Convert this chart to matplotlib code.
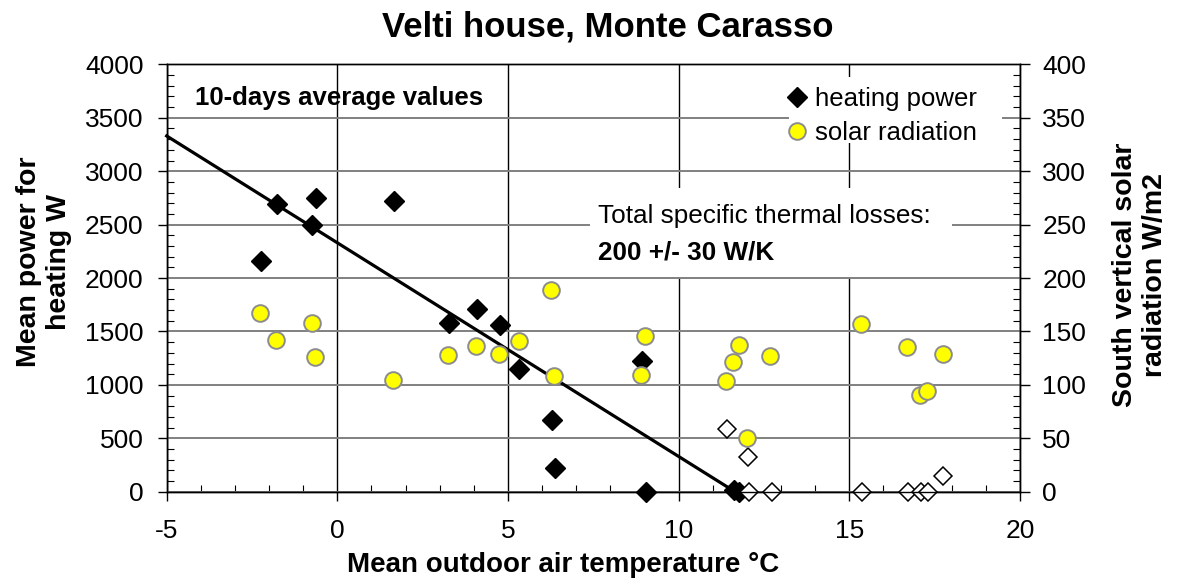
import numpy as np
import matplotlib.pyplot as plt
from matplotlib.patches import Rectangle
from matplotlib.ticker import MultipleLocator

plt.rcParams['font.family'] = ['Liberation Sans', 'DejaVu Sans']
plt.rcParams['axes.unicode_minus'] = False

# heating periods: mean outdoor air temperature (degC) vs mean heating power (W)
heat_temp = [-2.24, -1.78, -0.73, -0.63, 1.66, 3.28, 4.08, 4.77, 5.33,
             6.28, 6.38, 8.93, 9.03, 11.62, 11.78]
heat_power = [2160, 2690, 2500, 2750, 2720, 1580, 1710, 1560, 1150,
              670, 220, 1220, 0, 20, 0]

# periods with (almost) no heating -> open diamonds
off_temp = [11.41, 12.04, 12.07, 12.73, 15.36, 16.71, 17.09, 17.30, 17.75]
off_power = [585, 322, 0, 0, 0, 0, 0, 0, 150]

# south vertical solar radiation (W/m2), right axis
sol_temp = [-2.27, -1.80, -0.75, -0.65, 1.64, 3.24, 4.06, 4.74, 5.32, 6.26,
            6.35, 9.00, 8.90, 11.76, 11.60, 11.39, 12.69, 12.01, 15.34,
            16.69, 17.73, 17.08, 17.27]
sol_rad = [167, 142, 158, 126, 105, 128, 136, 129, 141, 189,
           108, 146, 109, 137, 121, 104, 127, 50.5, 157,
           135, 129, 90.5, 94]

# linear fit: 200 W/K
fit_temp = [-5, 11.65]
fit_power = [3330, 0]

fig = plt.figure(figsize=(11.77, 5.84), dpi=100)
ax = fig.add_axes([0.1416, 0.158, 0.725, 0.7318])
ax2 = ax.twinx()

ax.set_axisbelow(True)
ax.xaxis.grid(True, color='black', lw=1)
ax.yaxis.grid(True, color='#808080', lw=1.4)

# white boxes behind the annotations (hide the grid)
ax.add_patch(Rectangle((0.496, 0.502), 0.424, 0.208, transform=ax.transAxes,
                       facecolor='white', edgecolor='none', zorder=1.5))
ax.add_patch(Rectangle((0.729, 0.816), 0.25, 0.155, transform=ax.transAxes,
                       facecolor='white', edgecolor='none', zorder=1.5))

ax.plot(fit_temp, fit_power, color='black', lw=2.3, zorder=2, clip_on=False)
ax.plot(heat_temp, heat_power, 'D', ms=10, color='black', mec='black',
        label='heating power', zorder=3, clip_on=False)
ax.plot(off_temp, off_power, 'D', ms=9.5, mfc='white', mec='black', mew=1.1,
        zorder=3, clip_on=False)
ax2.plot(sol_temp, sol_rad, 'o', ms=12, mfc='#ffff00', mec='#8c8c8c', mew=1.4,
         label='solar radiation', zorder=3, clip_on=False)

ax.set_xlim(-5, 20)
ax.set_ylim(0, 4000)
ax2.set_ylim(0, 400)
ax.xaxis.set_major_locator(MultipleLocator(5))
ax.xaxis.set_minor_locator(MultipleLocator(1))
ax.yaxis.set_major_locator(MultipleLocator(500))
ax.yaxis.set_minor_locator(MultipleLocator(100))
ax2.yaxis.set_major_locator(MultipleLocator(50))
ax2.yaxis.set_minor_locator(MultipleLocator(10))

for a in (ax, ax2):
    for s in a.spines.values():
        s.set_linewidth(1)
ax.tick_params(which='major', direction='out', length=6.5, width=1, labelsize=19)
ax.tick_params(which='minor', direction='in', length=5, width=0.8)
ax.tick_params(axis='x', which='major', pad=13)
ax.tick_params(axis='y', which='major', pad=10)
ax2.tick_params(which='major', direction='out', length=7, width=1, labelsize=19, pad=9)
ax2.tick_params(which='minor', direction='in', length=5, width=0.8)

ax.set_xlabel('Mean outdoor air temperature °C', fontsize=20, fontweight='bold')
ax.xaxis.set_label_coords(0.4644, -0.1715)
ax.xaxis.label.set_va('center')
ax.set_ylabel('Mean power for\nheating W', fontsize=20.5, fontweight='bold')
ax.yaxis.set_label_coords(-0.1438, 0.537)
ax.yaxis.label.set_va('center')
ax2.set_ylabel('South vertical solar\nradiation W/m2', fontsize=20.5, fontweight='bold')
ax2.yaxis.set_label_coords(1.1406, 0.507)
ax2.yaxis.label.set_va('center')

fig.text(0.516, 0.937, 'Velti house, Monte Carasso', fontsize=25,
         fontweight='bold', ha='center', va='baseline')

ax.text(0.033, 0.922, '10-days average values', transform=ax.transAxes,
        fontsize=18.5, fontweight='bold', va='center', ha='left')
ax.text(0.505, 0.645, 'Total specific thermal losses:', transform=ax.transAxes,
        fontsize=18.8, va='center', ha='left', zorder=4)
ax.text(0.505, 0.56, '200 +/- 30 W/K', transform=ax.transAxes,
        fontsize=18.8, fontweight='bold', va='center', ha='left', zorder=4)

h1, l1 = ax.get_legend_handles_labels()
h2, l2 = ax2.get_legend_handles_labels()
leg = ax2.legend(h1 + h2, l1 + l2, loc='upper left', bbox_to_anchor=(0.7235, 0.948),
                 frameon=False, fontsize=18.5, handlelength=1.0, handletextpad=0.2,
                 borderpad=0, borderaxespad=0, labelspacing=0.4, numpoints=1)

fig.savefig('out.png', dpi=100)
